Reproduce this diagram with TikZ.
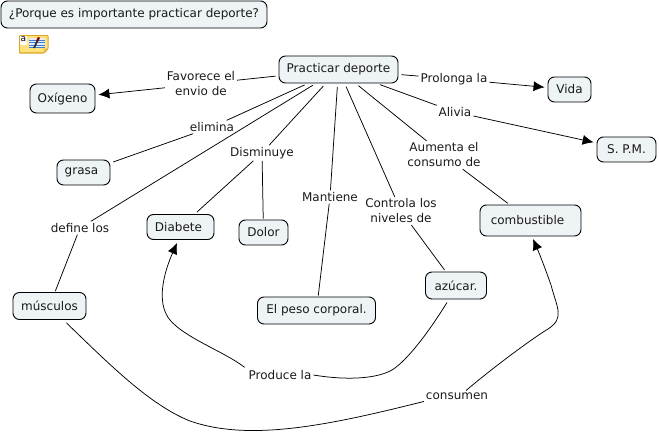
\documentclass[tikz,border=0pt]{standalone}
\usepackage{fontspec}
\setmainfont{DejaVu Sans}
\usetikzlibrary{arrows.meta}
\definecolor{boxfill}{HTML}{EEF3F6}
\definecolor{ink}{HTML}{1A1A1A}
\definecolor{noteyellow}{HTML}{FFE27A}
\definecolor{noteedge}{HTML}{D9A520}
\definecolor{notelines}{HTML}{3F7FD0}
\tikzset{
  concept/.style={draw=black,fill=boxfill,rounded corners=6.5pt,line width=0.9pt,inner sep=0pt,text=ink,font=\fontsize{12}{14}\selectfont,align=center},
  linkword/.style={inner sep=0pt,text=ink,font=\fontsize{12}{15}\selectfont,align=center,outer sep=2pt},
  wire/.style={line width=0.75pt,draw=black},
  arrowwire/.style={wire,-{Latex[length=11pt,width=10pt]}}
}
\newcommand{\cbox}[6]{\node[concept,minimum width=#4 pt,minimum height=#5 pt] (#1) at (#2,#3) {#6};}
\begin{document}
\begin{tikzpicture}[x=1pt,y=-1pt]
\useasboundingbox (0,0) rectangle (659,434);
\cbox{title}{134}{14.5}{266}{27}{¿Porque es importante practicar deporte?}
\cbox{prac}{338.5}{69.5}{119}{27}{Practicar deporte}
\cbox{oxi}{62.5}{98.5}{65}{29}{Oxígeno}
\cbox{grasa}{83.5}{172.5}{53}{25}{grasa\,\,}
\cbox{diab}{180.5}{227}{67}{25}{Diabete\,\,}
\cbox{dolor}{263.5}{232.5}{49}{25}{Dolor}
\cbox{musc}{49.5}{306}{73}{27}{músculos}
\cbox{peso}{316.5}{310.5}{118}{27}{El peso corporal.}
\cbox{azu}{456}{285.5}{61}{27}{azúcar.}
\cbox{comb}{530.5}{220.5}{101}{31}{combustible\,\,\,}
\cbox{vida}{569.5}{89.5}{43}{25}{Vida}
\cbox{spm}{626.5}{149.5}{59}{25}{S. P.M.}
\node[linkword] (fav) at (201,84) {Favorece el\\envio de};
\node[linkword] (pro) at (454,79) {Prolonga la};
\node[linkword] (ali) at (455,112) {Alivia};
\node[linkword] (eli) at (212,127) {elimina};
\node[linkword] (dis) at (262,153) {Disminuye};
\node[linkword] (aum) at (444,155) {Aumenta el\\consumo de};
\node[linkword] (man) at (330,197) {Mantiene};
\node[linkword] (con) at (401,211) {Controla los\\niveles de};
\node[linkword] (def) at (80,228) {define los};
\node[linkword] (prod) at (280,375) {Produce la};
\node[linkword] (cons) at (457,396) {consumen};
\begin{scope}[wire]
\draw[shorten <=3pt] (prac) -- (fav);
\draw[arrowwire,shorten >=3pt] (fav) -- (oxi);
\draw[shorten <=3pt] (prac) -- (pro);
\draw[arrowwire,shorten >=3pt] (pro) -- (vida);
\draw[shorten <=3.5pt] (prac) -- (ali);
\draw[arrowwire,shorten >=3pt] (ali) -- (spm);
\draw[shorten <=3.5pt] (prac) -- (eli);
\draw[shorten >=3pt] (eli) -- (grasa);
\draw[shorten <=3.5pt] (prac) -- (dis);
\draw[shorten >=3pt] (dis) -- (diab);
\draw[shorten >=1pt] (dis) -- (dolor);
\draw[shorten <=3.5pt] (prac) -- (aum);
\draw[shorten >=2pt] (aum) -- (comb);
\draw[shorten <=3.5pt] (prac) -- (man);
\draw[shorten >=1pt] (man) -- (peso);
\draw[shorten <=3.5pt] (prac) -- (con);
\draw[shorten >=2pt] (con) -- (azu);
\draw[shorten <=3.5pt] (prac) -- (def);
\draw[shorten >=1pt] (def) -- (musc);
\end{scope}
\draw[wire] (azu.south) ++(-9,3) coordinate (a1)
  (a1) .. controls (430,330) and (408,360) .. (392,370)
  .. controls (378,378) and (350,381) .. (prod.east);
\draw[arrowwire] (prod.north west) ++(-2,-1) coordinate (p1)
  (p1) .. controls (225,352) and (185,338) .. (170,320)
  .. controls (155,302) and (165,270) .. (177,243);
\draw[wire] (musc.south) ++(17,3) coordinate (m1)
  (m1) .. controls (110,365) and (150,405) .. (190,421)
  .. controls (250,442) and (330,425) .. (cons.south west);
\draw[arrowwire] (cons.north) ++(9,0) coordinate (k1)
  (k1) .. controls (490,370) and (530,340) .. (548,329)
  .. controls (565,318) and (557,308) .. (551,285)
  .. controls (545,268) and (540,255) .. (533,239);
% note icon
\fill[noteedge,rounded corners=1pt] (19,35) -- (48.5,35) -- (48.5,49) -- (44,53.5) -- (19,53.5) -- cycle;
\fill[noteyellow,rounded corners=0.6pt] (20,36) -- (47.5,36) -- (47.5,48.5) -- (43.5,52.3) -- (20,52.3) -- cycle;
\fill[noteedge!70!white] (43.5,52.3) -- (43.5,48.5) -- (47.5,48.5) -- cycle;
\fill[white] (20,36) rectangle (27,44.5);
\node[inner sep=0pt,font=\fontsize{9}{9}\selectfont,text=black] (noteletter) at (23.4,39.4) {a};
\fill[white!85!notelines] (28.5,37.5) rectangle (45,48);
\draw[notelines,line width=0.9pt] (29,40) -- (45,40) (29,42.5) -- (45,42.5) (29,45) -- (45,45) (29,47.5) -- (45,47.5);
\draw[black!80,line width=1.8pt] (34,48) -- (38,39.5);
\draw[red!60!black,line width=2.2pt] (37.2,41) -- (39,37.3);
\end{tikzpicture}
\end{document}
